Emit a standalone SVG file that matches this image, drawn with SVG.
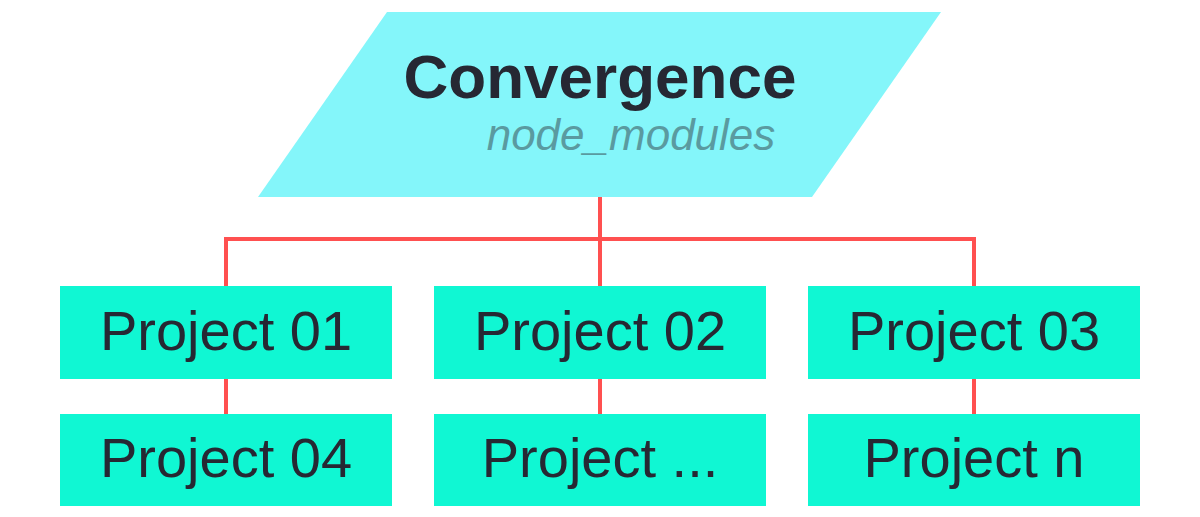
<svg xmlns="http://www.w3.org/2000/svg" width="1200" height="517" viewBox="0 0 1200 517">
<style>
.box{fill:#10f7d3}
.lbl{font-family:"Liberation Sans",Arial,sans-serif;font-size:56px;fill:#262833;text-anchor:middle}
.conn{stroke:#ff5050;stroke-width:4;fill:none}
</style>
<rect width="1200" height="517" fill="#ffffff"/>
<g id="connectors">
<path class="conn" d="M600 197V286M226 239H974M226 237V286M974 237V286M226 379V414M600 379V414M974 379V414"/>
</g>
<g id="convergence">
<polygon points="387,12 941,12 812,197 258,197" fill="#84f6fa"/>
<text x="600" y="98" font-family="'Liberation Sans',Arial,sans-serif" font-size="62" font-weight="bold" fill="#262833" text-anchor="middle">Convergence</text>
<text x="631" y="150" font-family="'Liberation Sans',Arial,sans-serif" font-size="44" font-style="italic" fill="#5a9aa0" text-anchor="middle">node_modules</text>
</g>
<g id="p01"><rect class="box" x="60" y="286" width="332" height="93"/><text class="lbl" x="226" y="350">Project 01</text></g>
<g id="p02"><rect class="box" x="434" y="286" width="332" height="93"/><text class="lbl" x="600" y="350">Project 02</text></g>
<g id="p03"><rect class="box" x="808" y="286" width="332" height="93"/><text class="lbl" x="974" y="350">Project 03</text></g>
<g id="p04"><rect class="box" x="60" y="414" width="332" height="92"/><text class="lbl" x="226" y="477">Project 04</text></g>
<g id="p05"><rect class="box" x="434" y="414" width="332" height="92"/><text class="lbl" x="600" y="477">Project ...</text></g>
<g id="pn"><rect class="box" x="808" y="414" width="332" height="92"/><text class="lbl" x="974" y="477">Project n</text></g>
</svg>
